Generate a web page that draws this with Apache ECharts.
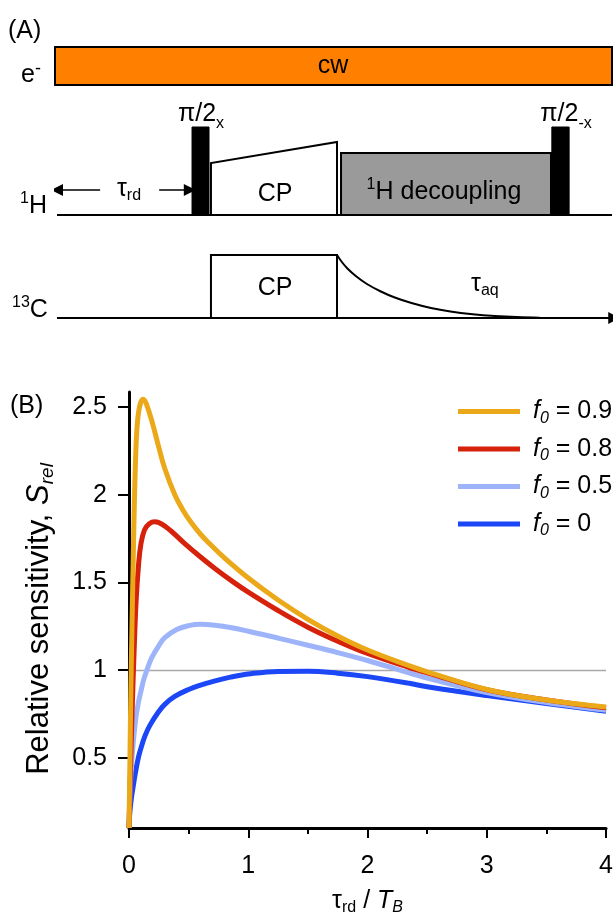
<!DOCTYPE html>
<html><head><meta charset="utf-8">
<script src="https://cdn.jsdelivr.net/npm/echarts@6/dist/echarts.min.js"></script>
<style>html,body{margin:0;padding:0;background:#fff}#c{width:616px;height:919px}</style>
</head><body><div id="c"></div>
<script>
// ---------- Panel B data ----------
const f0Values = ['0.9', '0.8', '0.5', '0'];
const tau09 = [0,0.008,0.016,0.025,0.035,0.045,0.055,0.065,0.08,0.1,0.12,0.15,0.2,0.25,0.3,0.384,0.45,0.523,0.6,0.67,0.8,1.0,1.25,1.5,1.75,2.0,2.35,2.5,3.0,3.5,4.0];
const s09   = [0.1,0.5,0.9,1.25,1.62,1.95,2.2,2.36,2.47,2.53,2.545,2.51,2.40,2.27,2.15,2.0,1.915,1.84,1.775,1.725,1.64,1.525,1.40,1.29,1.195,1.115,1.025,0.99,0.89,0.83,0.79];
const tau08 = [0,0.015,0.03,0.045,0.06,0.08,0.1,0.13,0.17,0.217,0.27,0.35,0.47,0.6,0.72,0.87,1.0,1.25,1.5,1.75,2.0,2.35,2.5,3.0,3.5,4.0];
const s08   = [0.1,0.5,0.85,1.15,1.4,1.6,1.72,1.8,1.835,1.846,1.835,1.795,1.72,1.645,1.58,1.505,1.445,1.34,1.245,1.165,1.095,1.015,0.985,0.888,0.83,0.785];
const tau05 = [0,0.005,0.01,0.02,0.03,0.045,0.06,0.08,0.1,0.125,0.15,0.19,0.25,0.3,0.4,0.5,0.6,0.7,0.85,1.0,1.25,1.5,1.75,2.0,2.25,2.5,3.0,3.5,4.0];
const s05   = [0.1,0.25,0.33,0.45,0.54,0.65,0.74,0.82,0.88,0.95,1.0,1.07,1.14,1.185,1.232,1.254,1.262,1.258,1.243,1.222,1.183,1.142,1.1,1.055,1.005,0.955,0.872,0.815,0.772];
const tau00 = [0,0.005,0.01,0.02,0.036,0.05,0.078,0.1,0.134,0.175,0.245,0.3,0.384,0.5,0.6,0.7,0.85,1.0,1.25,1.5,1.75,2.0,2.35,2.5,3.0,3.5,4.0];
const s00   = [0.1,0.17,0.21,0.27,0.34,0.4,0.5,0.555,0.625,0.685,0.76,0.805,0.85,0.89,0.915,0.935,0.96,0.978,0.993,0.994,0.983,0.963,0.925,0.905,0.855,0.81,0.766];
const xTicks = [0, 1, 2, 3, 4];
const yTicks = [0.5, 1, 1.5, 2, 2.5];
const refLevel = 1;

// ---------- Panel A schematic (time units 0-100, amplitude units) ----------
const blockNames    = ['cw', 'pulseX', 'cp1H', 'decoupling', 'pulseMinusX', 'cp13C'];
const blockStart    = [0, 24.6, 28.0, 51.35, 89.2, 28.0];
const blockEnd      = [100, 27.65, 50.63, 89.05, 92.3, 50.63];
const blockBase     = [245, 115, 115, 115, 115, 12];
const blockTopStart = [283, 203, 167, 177, 203, 75];
const blockTopEnd   = [283, 203, 188, 177, 203, 75];
const fidTime = [50.63, 51.5, 52.5, 54, 56, 58.5, 61, 64, 67.5, 71, 75, 79, 83, 87];
const fidAmp  = [75, 68, 61.5, 54, 46, 38.5, 32.5, 27, 22, 18.5, 15.8, 14, 12.9, 12.3];
const channelBase1H = 115, channelBase13C = 12;
const lineStartT = 0.36, lineEndT = 100.4;
const tauRdY = 140, tauRdLeftGap = 8.1, tauRdRightGap = 18.7, tauRdEnd = 24.2;

// ---------- styling ----------
const FONT = '"Liberation Sans", Arial, Helvetica, sans-serif';
const FS = 25;
const NFS = 31;
const colors = ['#EBA919', '#D6210B', '#9DB4FA', '#1B47F6'];
const blockStyle = {
  cw: {fill: '#FF8000', lw: 2},
  pulseX: {fill: '#000', lw: 1},
  cp1H: {fill: '#fff', lw: 2},
  decoupling: {fill: '#9a9a9a', lw: 2},
  pulseMinusX: {fill: '#000', lw: 1},
  cp13C: {fill: '#fff', lw: 2}
};
const zip = (a, b) => a.map((v, i) => [v, b[i]]);
const taus = [tau09, tau08, tau05, tau00];
const sens = [s09, s08, s05, s00];
const names = f0Values.map(v => 'f0 = ' + v);

const chart = echarts.init(document.getElementById('c'), null, {renderer: 'canvas'});

function txt(x, y, text, rich, align) {
  return {type: 'text', x: x, y: y, z: 100, silent: true,
    style: {text: text, fontFamily: FONT, fontSize: FS, fill: '#000',
      align: align || 'left', verticalAlign: 'middle', rich: rich || {}}};
}
const mainTok = {fontFamily: FONT, fontSize: FS, fill: '#000', lineHeight: 30};
const mainTall = {fontFamily: FONT, fontSize: FS, fill: '#000', lineHeight: 36};
const subTok = {fontFamily: FONT, fontSize: 16, fill: '#000', lineHeight: 16, verticalAlign: 'bottom'};
const supTok = {fontFamily: FONT, fontSize: 16, fill: '#000', lineHeight: 22, verticalAlign: 'top'};

const lineSeries = [3, 2, 1, 0].map(i => ({
  name: names[i], type: 'line', xAxisIndex: 0, yAxisIndex: 0,
  data: zip(taus[i], sens[i]), showSymbol: false, smooth: 0.4,
  lineStyle: {color: colors[i], width: 5}, itemStyle: {color: colors[i]},
  emphasis: {disabled: true}, silent: true, z: 3,
  markLine: i === 3 ? {silent: true, symbol: 'none', label: {show: false},
    lineStyle: {color: '#a8a8a8', width: 1.3, type: 'solid'}, data: [{yAxis: refLevel}], z: 1} : undefined
}));

const option = {
  backgroundColor: '#fff',
  animation: false,
  grid: [
    {left: 129, right: 8, top: 392, bottom: 91},
    {left: 55, right: 4, top: 40, bottom: 589}
  ],
  xAxis: [
    {type: 'value', gridIndex: 0, min: 0, max: 4, interval: 1,
      axisLine: {onZero: false, lineStyle: {color: '#000', width: 3}},
      axisTick: {length: 10, lineStyle: {color: '#000', width: 2}},
      minorTick: {show: true, splitNumber: 2, length: 6, lineStyle: {color: '#000', width: 2}},
      splitLine: {show: false},
      axisLabel: {fontFamily: FONT, fontSize: FS, color: '#000', margin: 26,
        customValues: xTicks},
      name: '{t|τ}{d|rd}{a| / }{i|T}{b|B}', nameLocation: 'middle', nameGap: 58,
      nameTextStyle: {rich: {
        t: {fontFamily: FONT, fontSize: FS, color: '#000', lineHeight: 30},
        d: {fontFamily: FONT, fontSize: 16, color: '#000', lineHeight: 16, verticalAlign: 'bottom'},
        a: {fontFamily: FONT, fontSize: FS, color: '#000', lineHeight: 30},
        i: {fontFamily: FONT, fontSize: FS, fontStyle: 'italic', color: '#000', lineHeight: 30},
        b: {fontFamily: FONT, fontSize: 16, fontStyle: 'italic', color: '#000', lineHeight: 16, verticalAlign: 'bottom'}
      }}},
    {type: 'value', gridIndex: 1, min: 0, max: 100, show: false}
  ],
  yAxis: [
    {type: 'value', gridIndex: 0, min: 0.1, max: 2.586,
      axisLine: {show: true, lineStyle: {color: '#000', width: 3}},
      axisTick: {show: true, length: 11, lineStyle: {color: '#000', width: 2}, customValues: yTicks},
      splitLine: {show: false},
      axisLabel: {fontFamily: FONT, fontSize: FS, color: '#000', margin: 22, customValues: yTicks},
      name: '{a|Relative sensitivity, }{s|S}{r|rel}', nameLocation: 'middle', nameGap: 72, nameRotate: 90,
      nameTextStyle: {padding: [0, 18, 0, 0], rich: {
        a: {fontFamily: FONT, fontSize: NFS, color: '#000', lineHeight: 36},
        s: {fontFamily: FONT, fontSize: NFS, fontStyle: 'italic', color: '#000', lineHeight: 36},
        r: {fontFamily: FONT, fontSize: 19, fontStyle: 'italic', color: '#000', lineHeight: 19, verticalAlign: 'bottom'}
      }}},
    {type: 'value', gridIndex: 1, min: 0, max: 290, show: false}
  ],
  legend: {
    data: names, left: 453, top: 394, orient: 'vertical', itemGap: 10, selectedMode: false,
    icon: 'rect', itemWidth: 62, itemHeight: 5,
    formatter: n => '{f|f}{z|0}{n| = ' + n.split('= ')[1] + '}',
    textStyle: {rich: {
      f: {fontFamily: FONT, fontSize: FS, fontStyle: 'italic', color: '#000', lineHeight: 30, padding: [0, 0, 0, 8]},
      z: {fontFamily: FONT, fontSize: 16, fontStyle: 'italic', color: '#000', lineHeight: 16, verticalAlign: 'bottom'},
      n: {fontFamily: FONT, fontSize: FS, color: '#000', lineHeight: 30}
    }}
  },
  graphic: [
    txt(8, 31, '(A)'),
    txt(21, 75, '{m|e}{p|-}', {m: mainTok, p: Object.assign({}, supTok, {fontSize: 18})}),
    txt(333, 66, 'cw', null, 'center'),
    txt(201, 114, '{m|π/2}{s|x}', {m: mainTall, s: subTok}, 'center'),
    txt(566, 114, '{m|π/2}{s|-x}', {m: mainTall, s: subTok}, 'center'),
    txt(20, 206, '{p|1}{m|H}', {m: mainTok, p: supTok}),
    txt(129, 189, '{m|τ}{s|rd}', {m: mainTok, s: subTok}, 'center'),
    txt(275, 194, 'CP', null, 'center'),
    txt(444, 192, '{p|1}{m|H decoupling}', {m: mainTok, p: supTok}, 'center'),
    txt(12, 310, '{p|13}{m|C}', {m: mainTok, p: supTok}),
    txt(275, 288, 'CP', null, 'center'),
    txt(471, 284, '{m|τ}{s|aq}', {m: mainTok, s: subTok}),
    txt(10, 406, '(B)')
  ],
  series: [
    ...lineSeries,
    {type: 'lines', coordinateSystem: 'cartesian2d', xAxisIndex: 1, yAxisIndex: 1, silent: true, z: 1,
      symbol: 'none', lineStyle: {color: '#000', width: 2, opacity: 1},
      data: [
        {coords: [[lineStartT, channelBase1H], [lineEndT - 0.4, channelBase1H]]}
      ]},
    {type: 'lines', coordinateSystem: 'cartesian2d', xAxisIndex: 1, yAxisIndex: 1, silent: true, z: 1,
      symbol: ['none', 'triangle'], symbolSize: [7, 12], lineStyle: {color: '#000', width: 2, opacity: 1},
      data: [
        {coords: [[lineStartT, channelBase13C], [lineEndT, channelBase13C]]},
        {coords: [[tauRdLeftGap, tauRdY], [lineStartT, tauRdY]], lineStyle: {width: 1.5}},
        {coords: [[tauRdRightGap, tauRdY], [tauRdEnd, tauRdY]], lineStyle: {width: 1.5}}
      ]},
    {type: 'custom', xAxisIndex: 1, yAxisIndex: 1, silent: true, z: 2,
      data: blockNames.map((n, i) => [blockStart[i], blockEnd[i], blockBase[i], blockTopStart[i], blockTopEnd[i], i]),
      renderItem: (params, api) => {
        const i = api.value(5);
        const st = blockStyle[blockNames[i]];
        const pts = [
          api.coord([api.value(0), api.value(2)]),
          api.coord([api.value(0), api.value(3)]),
          api.coord([api.value(1), api.value(4)]),
          api.coord([api.value(1), api.value(2)])
        ];
        return {type: 'polygon', shape: {points: pts}, style: {fill: st.fill, stroke: '#000', lineWidth: st.lw}};
      }},
    {type: 'line', xAxisIndex: 1, yAxisIndex: 1, silent: true, z: 2,
      data: zip(fidTime, fidAmp), showSymbol: false, smooth: 0.4,
      lineStyle: {color: '#000', width: 2}}
  ]
};
chart.setOption(option);
</script>
</body></html>
